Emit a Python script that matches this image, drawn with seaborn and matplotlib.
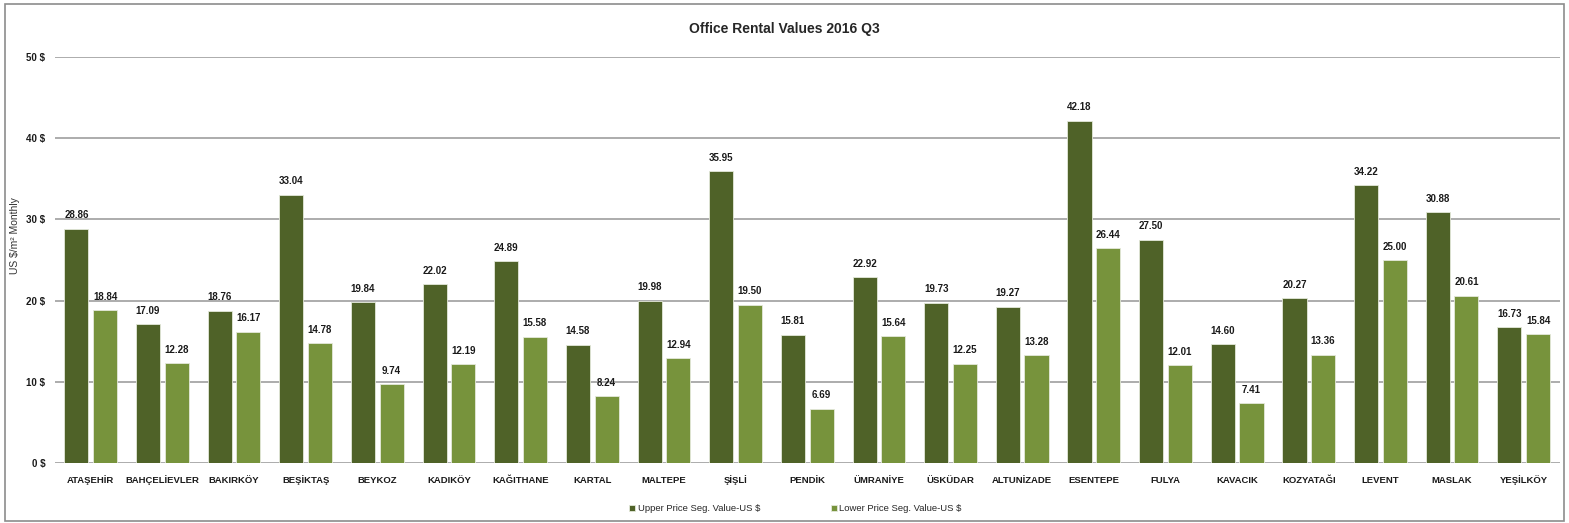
import pandas as pd

import matplotlib.pyplot as plt
import seaborn as sns
from matplotlib.patches import Rectangle

districts = ["ATAŞEHİR", "BAHÇELİEVLER", "BAKIRKÖY", "BEŞİKTAŞ", "BEYKOZ", "KADIKÖY",
             "KAĞITHANE", "KARTAL", "MALTEPE", "ŞİŞLİ", "PENDİK", "ÜMRANİYE", "ÜSKÜDAR",
             "ALTUNİZADE", "ESENTEPE", "FULYA", "KAVACIK", "KOZYATAĞI", "LEVENT",
             "MASLAK", "YEŞİLKÖY"]
upper = [28.86, 17.09, 18.76, 33.04, 19.84, 22.02, 24.89, 14.58, 19.98, 35.95, 15.81,
         22.92, 19.73, 19.27, 42.18, 27.50, 14.60, 20.27, 34.22, 30.88, 16.73]
lower = [18.84, 12.28, 16.17, 14.78, 9.74, 12.19, 15.58, 8.24, 12.94, 19.50, 6.69,
         15.64, 12.25, 13.28, 26.44, 12.01, 7.41, 13.36, 25.00, 20.61, 15.84]
series_names = ["Upper Price Seg. Value-US $", "Lower Price Seg. Value-US $"]
yticks = [0, 10, 20, 30, 40, 50]

df = pd.DataFrame({"district": districts, series_names[0]: upper, series_names[1]: lower})
df = df.melt(id_vars="district", var_name="segment", value_name="value")

sns.set_style("white")
plt.rcParams["font.family"] = ["Liberation Sans", "DejaVu Sans"]

fig = plt.figure(figsize=(15.69, 5.23), dpi=100)
ax = fig.add_axes([0.035, 0.1147, 0.959, 0.7763])

sns.barplot(data=df, x="district", y="value", hue="segment",
            palette=["#4F6228", "#77933C"], width=0.8, gap=0.16,
            saturation=1, edgecolor="#e4e9da", linewidth=0.6, ax=ax)

# valeurs au-dessus des barres
for cont in ax.containers:
    ax.bar_label(cont, fmt="%.2f", padding=6, fontsize=7, fontweight="bold",
                 color="#1a1a1a")

ax.set_ylim(0, 50)
ax.set_xlim(-0.5, len(districts) - 0.5)
ax.set_yticks(yticks)
ax.set_yticklabels([f"{t} $" for t in yticks], fontsize=7, fontweight="bold")
ax.tick_params(axis="y", length=0, pad=7, colors="#1a1a1a")
ax.tick_params(axis="x", length=0, pad=9, colors="#1a1a1a")
for lab in ax.get_xticklabels():
    lab.set_fontsize(6.8)
    lab.set_fontweight("bold")
ax.yaxis.grid(True, color="#a6a6a6", linewidth=1.3)
ax.set_axisbelow(True)
for s in ax.spines.values():
    s.set_visible(False)
ax.set_xlabel("")
ax.set_ylabel("US $/m² Monthly", fontsize=7.5, color="#333333")
ax.yaxis.set_label_coords(-0.023, 0.56)

ax.legend(loc="center", bbox_to_anchor=(0.507, 0.028), bbox_transform=fig.transFigure,
          ncol=2, frameon=False, fontsize=6.8, handlelength=0.6, handleheight=0.6,
          handletextpad=0.3, columnspacing=7.5)

fig.text(0.5, 0.945, "Office Rental Values 2016 Q3", ha="center", va="center",
         fontsize=10, fontweight="bold")

fig.patches.append(Rectangle((0.003, 0.003), 0.994, 0.99, transform=fig.transFigure,
                             fill=False, edgecolor="#8c8c8c", linewidth=1.2))

fig.savefig("out.png", dpi=100)
